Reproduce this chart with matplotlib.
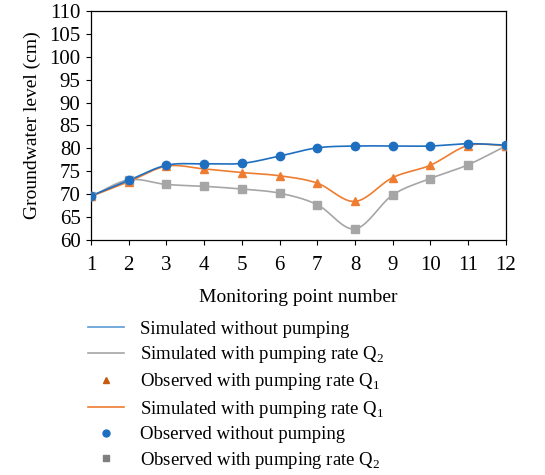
import numpy as np
import matplotlib
matplotlib.use("Agg")
import matplotlib.pyplot as plt
from matplotlib.lines import Line2D

plt.rcParams['font.family'] = ['Liberation Serif', 'DejaVu Serif']
plt.rcParams['mathtext.fontset'] = 'custom'
plt.rcParams['mathtext.rm'] = 'Liberation Serif'

points = list(range(1, 13))
no_pumping = [69.6, 73.0, 76.3, 76.6, 76.7, 78.3, 80.1, 80.5, 80.5, 80.5, 81.0, 80.7]
rate_q1 = [69.5, 72.7, 76.1, 75.5, 74.7, 74.0, 72.4, 68.4, 73.6, 76.3, 80.6, 80.6]
rate_q2 = [69.5, 73.1, 72.1, 71.7, 71.1, 70.2, 67.7, 62.4, 69.8, 73.4, 76.4, 80.5]

blue = '#1f6fc0'
orange = '#ee7d31'
gray = '#a6a6a6'


def smooth(x, y, n=20):
    """Catmull-Rom curve through every data point."""
    x = np.asarray(x, float)
    y = np.asarray(y, float)
    px = np.concatenate([[2 * x[0] - x[1]], x, [2 * x[-1] - x[-2]]])
    py = np.concatenate([[2 * y[0] - y[1]], y, [2 * y[-1] - y[-2]]])
    xs, ys = [], []
    t = np.linspace(0, 1, n, endpoint=False)
    for i in range(1, len(px) - 2):
        for p, out in ((px, xs), (py, ys)):
            p0, p1, p2, p3 = p[i - 1], p[i], p[i + 1], p[i + 2]
            out.extend(0.5 * ((2 * p1) + (-p0 + p2) * t
                              + (2 * p0 - 5 * p1 + 4 * p2 - p3) * t ** 2
                              + (-p0 + 3 * p1 - 3 * p2 + p3) * t ** 3))
    xs.append(x[-1])
    ys.append(y[-1])
    return np.array(xs), np.array(ys)


fig = plt.figure(figsize=(5.45, 4.75), dpi=100)
ax = fig.add_axes([0.167, 0.495, 0.761, 0.482])

for vals, col, mk, ms in ((rate_q2, gray, 's', 6),
                          (rate_q1, orange, '^', 6),
                          (no_pumping, blue, 'o', 6)):
    sx, sy = smooth(points, vals)
    ax.plot(sx, sy, color=col, lw=1.2, zorder=2)
    ax.plot(points, vals, ls='none', marker=mk, ms=ms, color=col,
            mec=col, zorder=3)

ax.set_xlim(1, 12)
ax.set_ylim(60, 110)
ax.set_xticks(points)
ax.set_yticks(np.arange(60, 111, 5))
ax.tick_params(labelsize=15, direction='out', length=3.5, width=0.8, pad=4)
ax.tick_params(axis='x', pad=8)
for s in ax.spines.values():
    s.set_linewidth(0.9)
ax.set_ylabel('Groundwater level (cm)', fontsize=14, labelpad=6)
ax.set_xlabel('Monitoring point number', fontsize=14, labelpad=10)

handles = [
    Line2D([], [], color='#5b9bd5', lw=1.2),
    Line2D([], [], color=gray, lw=1.2),
    Line2D([], [], ls='none', marker='^', ms=5, color='#c55a11'),
    Line2D([], [], color=orange, lw=1.2),
    Line2D([], [], ls='none', marker='o', ms=5, color=blue),
    Line2D([], [], ls='none', marker='s', ms=5, color='#7f7f7f'),
]
labels = [
    'Simulated without pumping',
    r'Simulated with pumping rate Q$_\mathregular{2}$',
    r'Observed with pumping rate Q$_\mathregular{1}$',
    r'Simulated with pumping rate Q$_\mathregular{1}$',
    'Observed without pumping',
    r'Observed with pumping rate Q$_\mathregular{2}$',
]
fig.legend(handles, labels, loc='upper left', bbox_to_anchor=(0.161, 0.325),
           frameon=False, fontsize=13.5, handlelength=1.95, handletextpad=0.85,
           labelspacing=0.34, borderaxespad=0, borderpad=0)

fig.savefig('out.png', dpi=100)
